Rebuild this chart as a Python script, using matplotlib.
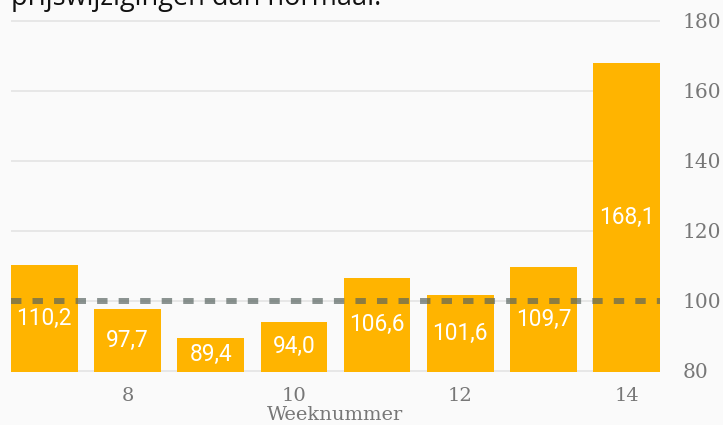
import matplotlib
matplotlib.use("Agg")
import matplotlib.pyplot as plt

weeks = [7, 8, 9, 10, 11, 12, 13, 14]
values = [110.2, 97.7, 89.4, 94.0, 106.6, 101.6, 109.7, 168.1]
labels = ["110,2", "97,7", "89,4", "94,0", "106,6", "101,6", "109,7", "168,1"]
xticks = [8, 10, 12, 14]
yticks = [80, 100, 120, 140, 160, 180]
reference = 100
title = "prijswijzigingen dan normaal."
xlabel = "Weeknummer"

W, H = 723, 425
bg = "#fafafa"
fig = plt.figure(figsize=(W / 100, H / 100), dpi=100, facecolor=bg)
ymin, ymax = 79.6, 182
ax = fig.add_axes([11 / W, (H - 372) / H, (660 - 11) / W, (372 - 14) / H])
ax.set_facecolor(bg)
ax.set_xlim(6.6, 14.4)
ax.set_ylim(ymin, ymax)

for y in yticks:
    ax.axhline(y, color="#e6e6e6", lw=1.3, zorder=0)

ax.bar(weeks, values, width=0.8, color="#ffb400", zorder=2)

plt.rcParams['lines.scale_dashes'] = False
ax.axhline(reference, color="#56625f", alpha=0.68, lw=4.3, dashes=(7.5, 8.0), zorder=3)

for x, v, t in zip(weeks, values, labels):
    ax.text(x, (v + ymin) / 2, t, color="white", ha="center", va="center",
            family="Roboto", fontsize=16.3, zorder=4)

for s in ax.spines.values():
    s.set_visible(False)
ax.set_xticks(xticks)
ax.set_yticks(yticks)
ax.yaxis.tick_right()
ax.tick_params(axis="y", length=0, labelcolor="#777777", labelsize=14.5, pad=16)
ax.tick_params(axis="x", length=0, labelcolor="#777777", labelsize=14, pad=11)
for lbl in ax.get_xticklabels():
    lbl.set_family("DejaVu Serif")
for lbl in ax.get_yticklabels():
    lbl.set_family("DejaVu Serif")
    lbl.set_horizontalalignment("left")
ax.set_xlabel(xlabel, family="DejaVu Serif", fontsize=14, color="#777777", labelpad=0.5)

fig.text(11 / W, 1 - 5 / H, title, family="Open Sans", fontsize=19.5, color="#111111",
         ha="left", va="baseline")

fig.savefig("out.png", dpi=100, facecolor=bg)
